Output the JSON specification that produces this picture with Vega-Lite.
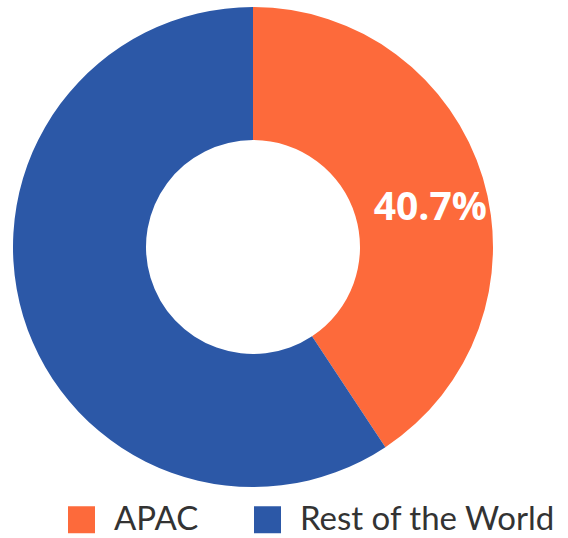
{
  "$schema": "https://vega.github.io/schema/vega-lite/v6.json",
  "width": 506,
  "height": 494,
  "padding": {"left": 0, "top": 0, "right": 62, "bottom": 44},
  "autosize": {"type": "none"},
  "background": "white",
  "config": {"view": {"stroke": null}},
  "data": {
    "values": [
      {"region": "APAC", "share": 40.7, "order": 1, "label": "40.7%"},
      {"region": "Rest of the World", "share": 59.3, "order": 2, "label": ""}
    ]
  },
  "encoding": {
    "theta": {"field": "share", "type": "quantitative", "stack": true},
    "order": {"field": "order", "type": "quantitative"}
  },
  "layer": [
    {
      "mark": {"type": "arc", "innerRadius": 107, "outerRadius": 240},
      "encoding": {
        "color": {
          "field": "region",
          "type": "nominal",
          "scale": {"domain": ["APAC", "Rest of the World"], "range": ["#FD6A3B", "#2C58A7"]},
          "legend": {
            "title": null,
            "orient": "none",
            "legendX": 65,
            "legendY": 503,
            "direction": "horizontal",
            "symbolType": "square",
            "symbolSize": 729,
            "symbolStrokeWidth": 0,
            "labelFont": "Lato",
            "labelFontSize": 33,
            "labelColor": "#333333",
            "labelOffset": 16,
            "columnPadding": 52,
            "labelLimit": 400
          }
        }
      }
    },
    {
      "mark": {"type": "text", "radius": 181, "dx": 4, "dy": 13, "font": "Open Sans", "fontWeight": "bold", "fontSize": 39, "color": "white"},
      "encoding": {"text": {"field": "label"}}
    }
  ]
}
